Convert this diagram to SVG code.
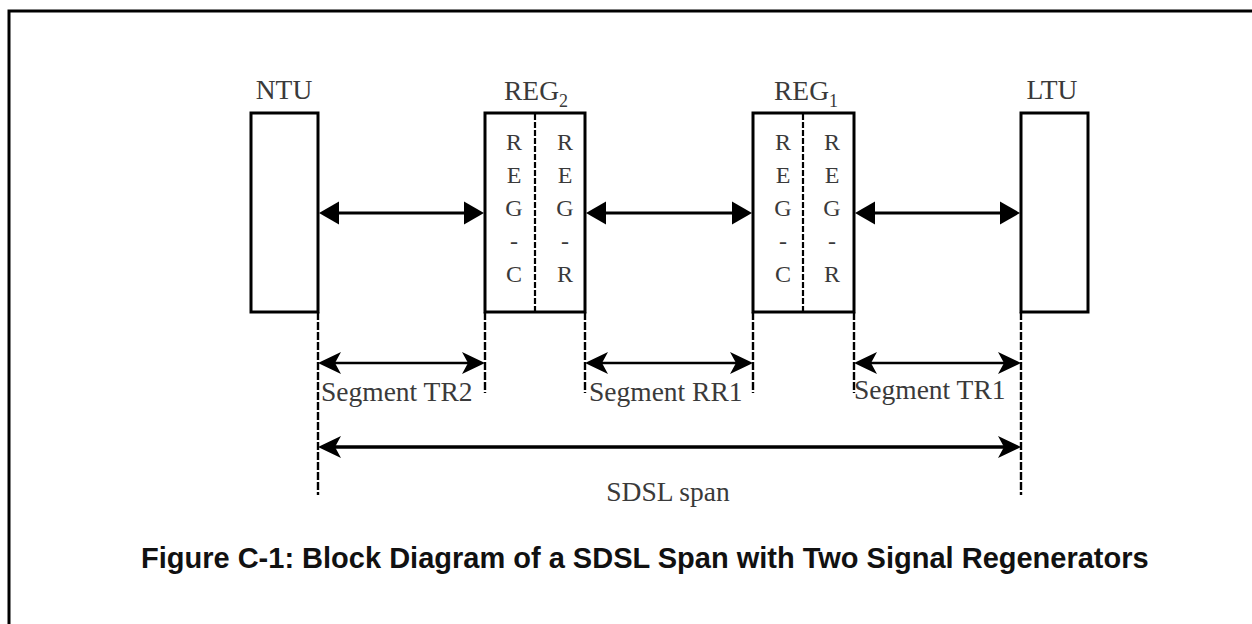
<svg xmlns="http://www.w3.org/2000/svg" width="1252" height="624" viewBox="0 0 1252 624">
  <style>
    .box { fill: #fff; stroke: #000; stroke-width: 3; }
    .divider { stroke: #000; stroke-width: 2.2; stroke-dasharray: 6 2; }
    .ext { stroke: #000; stroke-width: 2.4; stroke-dasharray: 8 2; fill: none; }
    .lbl { font-family: "Liberation Serif", "Times New Roman", serif; fill: #3a3a3a; }
    .top { font-size: 27.5px; }
    .sub { font-size: 18px; }
    .col { font-size: 24px; text-anchor: middle; }
    .seg { font-size: 27.5px; }
    .link { stroke: #000; stroke-width: 3; fill: none; }
    .dim { stroke: #000; stroke-width: 2.6; fill: none; }
    .span { stroke: #000; stroke-width: 3.6; fill: none; }
    .caption { font-family: "Liberation Sans", Arial, sans-serif; font-weight: bold; font-size: 29px; fill: #111; }
  </style>
  <defs>
    <marker id="solid" viewBox="0 -12 20 24" refX="14" refY="0" markerWidth="20" markerHeight="24" markerUnits="userSpaceOnUse" orient="auto-start-reverse">
      <path d="M0,-11.5 L20,0 L0,11.5 Z" fill="#000"/>
    </marker>
    <marker id="barb" viewBox="0 -12 23 24" refX="17" refY="0" markerWidth="23" markerHeight="24" markerUnits="userSpaceOnUse" orient="auto-start-reverse">
      <path d="M23,0 L0,-11 L6,0 L0,11 Z" fill="#000"/>
    </marker>
  </defs>

  <!-- frame -->
  <path d="M9,624 V11 H1252" fill="none" stroke="#000" stroke-width="3"/>

  <!-- network termination unit -->
  <g id="ntu">
    <rect class="box" x="251" y="113" width="67" height="199"/>
    <text class="lbl top" x="284" y="99" text-anchor="middle">NTU</text>
  </g>

  <!-- regenerator 2 -->
  <g id="reg2">
    <rect class="box" x="485" y="113" width="100" height="199"/>
    <line class="divider" x1="535" y1="114" x2="535" y2="311"/>
    <text class="lbl top" x="504" y="100">REG<tspan class="sub" dy="7">2</tspan></text>
    <g class="lbl col">
      <text x="514" y="150">R</text><text x="514" y="183">E</text><text x="514" y="216">G</text><text x="514" y="249">-</text><text x="514" y="282">C</text>
      <text x="565" y="150">R</text><text x="565" y="183">E</text><text x="565" y="216">G</text><text x="565" y="249">-</text><text x="565" y="282">R</text>
    </g>
  </g>

  <!-- regenerator 1 -->
  <g id="reg1">
    <rect class="box" x="753" y="113" width="101" height="199"/>
    <line class="divider" x1="803" y1="114" x2="803" y2="311"/>
    <text class="lbl top" x="774" y="100">REG<tspan class="sub" dy="7">1</tspan></text>
    <g class="lbl col">
      <text x="783" y="150">R</text><text x="783" y="183">E</text><text x="783" y="216">G</text><text x="783" y="249">-</text><text x="783" y="282">C</text>
      <text x="832" y="150">R</text><text x="832" y="183">E</text><text x="832" y="216">G</text><text x="832" y="249">-</text><text x="832" y="282">R</text>
    </g>
  </g>

  <!-- line termination unit -->
  <g id="ltu">
    <rect class="box" x="1021" y="113" width="67" height="199"/>
    <text class="lbl top" x="1052" y="99" text-anchor="middle">LTU</text>
  </g>

  <!-- connectors and dimension lines -->
  <g id="connectors">
    <line class="link" x1="325" y1="213" x2="478" y2="213" marker-start="url(#solid)" marker-end="url(#solid)"/>
    <line class="link" x1="592" y1="213" x2="746" y2="213" marker-start="url(#solid)" marker-end="url(#solid)"/>
    <line class="link" x1="861" y1="213" x2="1014" y2="213" marker-start="url(#solid)" marker-end="url(#solid)"/>

    <line class="ext" x1="318" y1="312" x2="318" y2="495"/>
    <line class="ext" x1="485" y1="312" x2="485" y2="393"/>
    <line class="ext" x1="585" y1="312" x2="585" y2="393"/>
    <line class="ext" x1="753" y1="312" x2="753" y2="393"/>
    <line class="ext" x1="854" y1="312" x2="854" y2="393"/>
    <line class="ext" x1="1021" y1="312" x2="1021" y2="495"/>

    <line class="dim" x1="324" y1="363" x2="479" y2="363" marker-start="url(#barb)" marker-end="url(#barb)"/>
    <line class="dim" x1="591" y1="363" x2="747" y2="363" marker-start="url(#barb)" marker-end="url(#barb)"/>
    <line class="dim" x1="860" y1="363" x2="1015" y2="363" marker-start="url(#barb)" marker-end="url(#barb)"/>

    <line class="span" x1="324" y1="447" x2="1015" y2="447" marker-start="url(#barb)" marker-end="url(#barb)"/>
  </g>

  <!-- dimension labels -->
  <g id="labels" class="lbl seg">
    <text x="321" y="401">Segment TR2</text>
    <text x="589" y="401">Segment RR1</text>
    <text x="854" y="399">Segment TR1</text>
    <text x="668" y="501" text-anchor="middle">SDSL span</text>
  </g>

  <text class="caption" x="141" y="568">Figure C-1: Block Diagram of a SDSL Span with Two Signal Regenerators</text>
</svg>
